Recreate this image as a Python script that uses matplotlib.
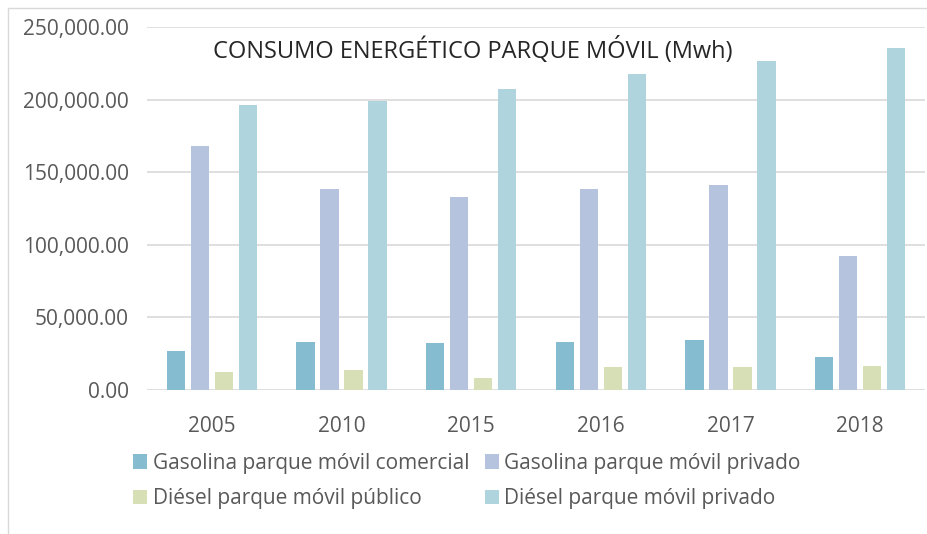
import matplotlib
matplotlib.use("Agg")
import matplotlib.pyplot as plt
import numpy as np
from matplotlib.patches import Rectangle, Patch

years = ["2005", "2010", "2015", "2016", "2017", "2018"]
gas_comercial = [27000, 33200, 32100, 33200, 34400, 22500]
gas_privado = [168000, 138300, 133000, 138300, 141500, 92200]
diesel_publico = [12200, 13800, 8500, 16000, 16000, 16700]
diesel_privado = [196000, 199300, 207600, 217400, 226600, 235500]
series_names = ["Gasolina parque móvil comercial", "Gasolina parque móvil privado",
                "Diésel parque móvil público", "Diésel parque móvil privado"]
colors = ["#86BCD0", "#B6C3DF", "#D6DFB6", "#AFD4DE"]
title = "CONSUMO ENERGÉTICO PARQUE MÓVIL (Mwh)"

plt.rcParams['font.family'] = ['Open Sans', 'DejaVu Sans']

fig = plt.figure(figsize=(9.28, 5.34), dpi=100)
ax = fig.add_axes([147/928, 1-390/534, (925-147)/928, (390-27)/534])

x = np.arange(len(years))
slot = 0.185
width = 0.14
data = [gas_comercial, gas_privado, diesel_publico, diesel_privado]
for i, (vals, c) in enumerate(zip(data, colors)):
    ax.bar(x + (i - 1.5) * slot, vals, width=width, color=c, zorder=3)

ax.set_xlim(-0.5, len(years) - 0.5)
ax.set_ylim(0, 250000)
ax.set_yticks(np.arange(0, 250001, 50000))
ax.set_yticklabels([f"{v:,.2f}" for v in np.arange(0, 250001, 50000)])
ax.set_xticks(x)
ax.set_xticklabels(years)
ax.tick_params(axis='both', length=0, labelsize=15, colors="#595959")
ax.tick_params(axis='y', pad=13)
ax.tick_params(axis='x', pad=19)
ax.grid(axis='y', color="#D9D9D9", linewidth=1.2, zorder=0)
for s in ax.spines.values():
    s.set_visible(False)

fig.text(473/928, 1-50/534, title, ha='center', va='center', fontsize=17, color="#262626")

handles = [Patch(facecolor=c, edgecolor='none') for c in colors]
order = [0, 2, 1, 3]
leg = fig.legend([handles[i] for i in order], [series_names[i] for i in order], ncol=2,
                 loc='upper left', bbox_to_anchor=(114/928, 1-434/534), frameon=False,
                 fontsize=15, labelcolor="#595959", handlelength=0.7, handleheight=0.7,
                 handletextpad=0.25, columnspacing=0.75, labelspacing=0.7)

fig.add_artist(Rectangle((8/928, -0.1), 1.2, 1-8/534+0.1, transform=fig.transFigure,
                         fill=False, edgecolor="#D9D9D9", linewidth=1))

fig.savefig("out.png", dpi=100)
